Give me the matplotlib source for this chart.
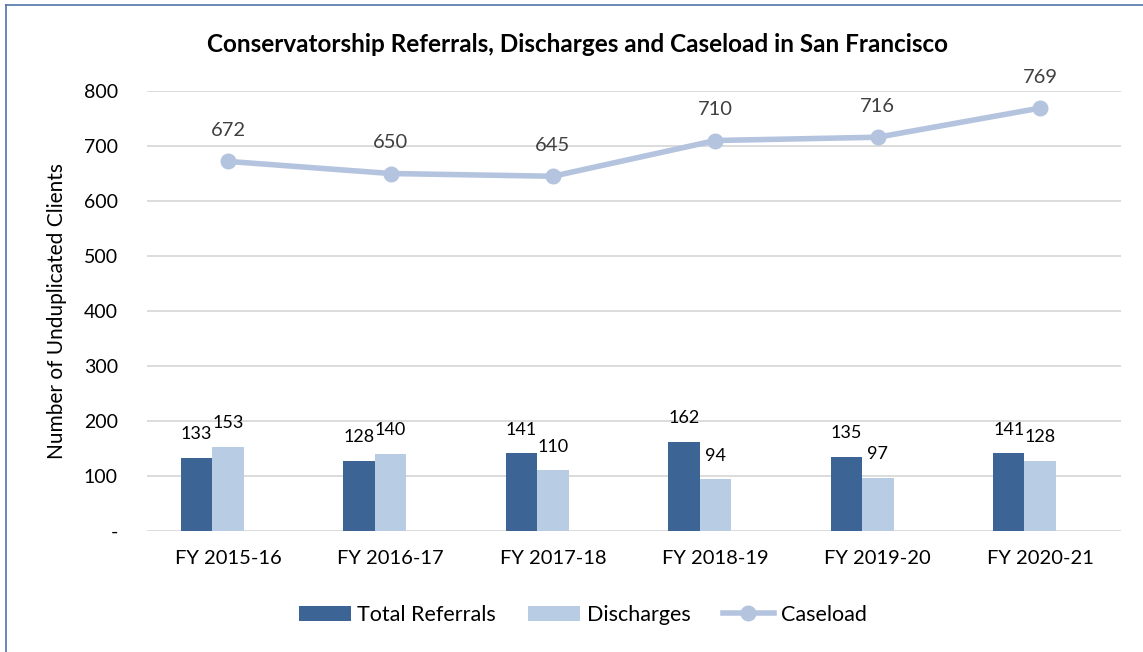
import numpy as np
import matplotlib.pyplot as plt
from matplotlib.lines import Line2D

plt.rcParams['font.family'] = ['Lato', 'DejaVu Sans']

years = ["FY 2015-16", "FY 2016-17", "FY 2017-18", "FY 2018-19", "FY 2019-20", "FY 2020-21"]
referrals = [133, 128, 141, 162, 135, 141]
discharges = [153, 140, 110, 94, 97, 128]
caseload = [672, 650, 645, 710, 716, 769]

dark = "#3c6494"
light = "#b8cce4"
line_c = "#b4c4df"

fig = plt.figure(figsize=(11.43, 6.52), dpi=100)
ax = fig.add_axes([0.1286, 0.1856, 0.8525, 0.6748])

x = np.arange(len(years))
w = 0.194
# excel leaves an empty third slot, so the pair sits left of the category centre
b1 = ax.bar(x - w, referrals, w, color=dark, zorder=3)
b2 = ax.bar(x, discharges, w, color=light, zorder=3)
ax.plot(x, caseload, color=line_c, lw=4, marker="o", ms=10.5, zorder=4)

for xi, v in zip(x, referrals):
    ax.annotate(str(v), (xi - w, v), xytext=(0, 17), textcoords="offset points",
                ha="center", va="center", fontsize=13, color="black")
for xi, v in zip(x, discharges):
    ax.annotate(str(v), (xi, v), xytext=(0, 17), textcoords="offset points",
                ha="center", va="center", fontsize=13, color="black")
for xi, v in zip(x, caseload):
    ax.annotate(str(v), (xi, v), xytext=(0, 22), textcoords="offset points",
                ha="center", va="center", fontsize=14.5, color="#404040")

ax.set_xlim(-0.5, len(years) - 0.5)
ax.set_ylim(0, 800)
ax.set_yticks(range(0, 801, 100))
ax.set_yticklabels(["-"] + [str(v) for v in range(100, 801, 100)])
ax.set_xticks(x)
ax.set_xticklabels(years)
ax.tick_params(axis="y", length=0, pad=21, labelsize=14)
ax.tick_params(axis="x", length=0, pad=14, labelsize=14.5)
ax.grid(axis="y", color="#d9d9d9", lw=1.3, zorder=0)
for s in ax.spines.values():
    s.set_visible(False)

ax.set_ylabel("Number of Unduplicated Clients", fontsize=15)
ax.yaxis.set_label_coords(-0.082, 0.5)

fig.text(0.505, 0.932, "Conservatorship Referrals, Discharges and Caseload in San Francisco",
         ha="center", va="center", fontsize=17.5, fontweight="bold")

handles = [b1, b2, Line2D([], [], color=line_c, lw=4, marker="o", ms=10.5)]
fig.legend(handles, ["Total Referrals", "Discharges", "Caseload"], loc="center",
           bbox_to_anchor=(0.51, 0.057), ncol=3, frameon=False, fontsize=15.5,
           handlelength=2.4, handletextpad=0.3, columnspacing=1.5)

# chart border (left and top visible)
fig.add_artist(Line2D([0.0055, 0.0055], [0, 0.992], color="#4f74a8", lw=1.2))
fig.add_artist(Line2D([0.0055, 1], [0.992, 0.992], color="#4f74a8", lw=1.2))

fig.savefig("out.png", dpi=100)
